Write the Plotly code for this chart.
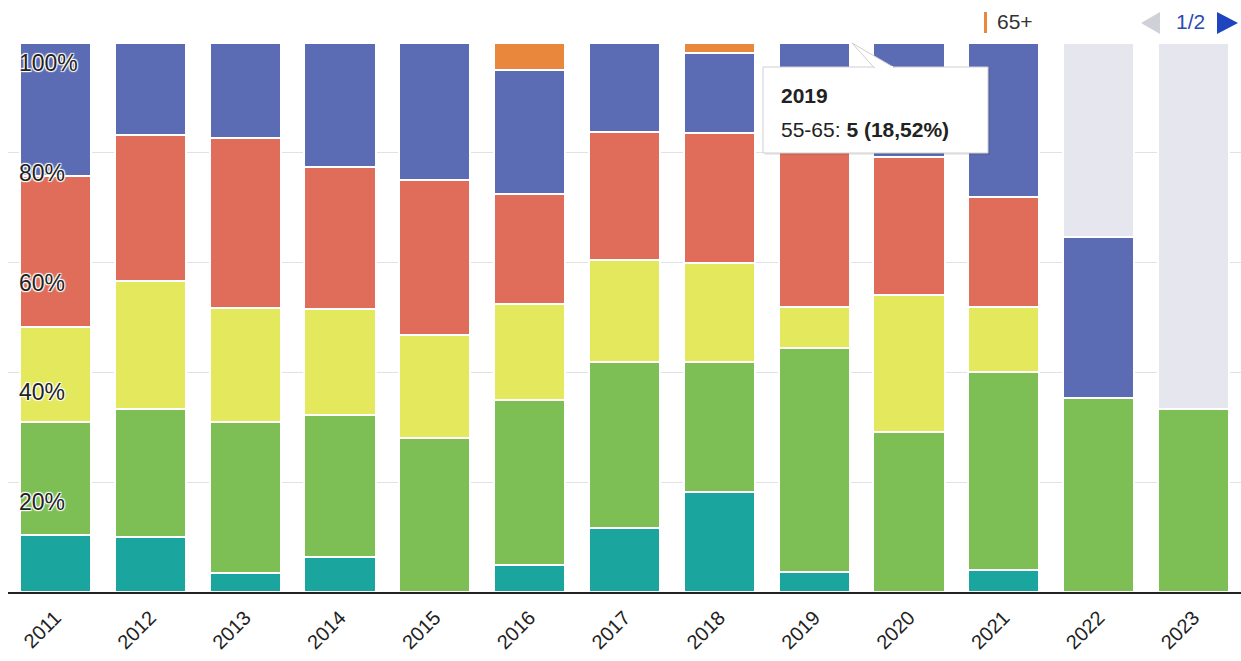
import plotly.graph_objects as go

# ---- data (counts per age group) ----
years = ["2011", "2012", "2013", "2014", "2015", "2016", "2017",
         "2018", "2019", "2020", "2021", "2022", "2023"]
age_18_25 = [3, 3, 1, 2, 0, 2, 5, 10, 1, 0, 1, 0, 0]
age_25_35 = [6, 7, 8, 8, 9, 12, 13, 13, 11, 7, 9, 6, 1]
age_35_45 = [5, 7, 6, 6, 6, 7, 8, 10, 2, 6, 3, 0, 0]
age_45_55 = [8, 8, 9, 8, 9, 8, 10, 13, 8, 6, 5, 0, 0]
age_55_65 = [7, 5, 5, 7, 8, 9, 7, 8, 5, 5, 7, 5, 0]
age_65_plus = [0, 0, 0, 0, 0, 2, 0, 1, 0, 0, 0, 0, 0]
unknown = [0, 0, 0, 0, 0, 0, 0, 0, 0, 0, 0, 6, 2]

series_names = ["18-25", "25-35", "35-45", "45-55", "55-65", "65+", "onbekend"]
series_values = [age_18_25, age_25_35, age_35_45, age_45_55, age_55_65, age_65_plus, unknown]
series_colors = ["#1aa59e", "#7dbf55", "#e3e85c", "#df6d5a", "#5c6cb4", "#e9883d", "#e6e6ee"]

y_ticks = [20, 40, 60, 80, 100]
y_tick_labels = ["20%", "40%", "60%", "80%", "100%"]

# ---- geometry helpers (pixel -> paper) ----
W, H = 1241, 661
ML, MR, MT, MB = 8, 0, 43, 69
PW, PH = W - ML - MR, H - MT - MB


def px(x):
    return (x - ML) / PW


def py(y):
    return (H - MB - y) / PH


FONT = "Arial, 'Liberation Sans', sans-serif"

totals = [sum(s[i] for s in series_values) for i in range(len(years))]

fig = go.Figure()
for name, vals, col in zip(series_names, series_values, series_colors):
    pct = [(v / t * 100 if t else 0) for v, t in zip(vals, totals)]
    fig.add_trace(go.Bar(
        x=years, y=vals, name=name,
        marker=dict(color=col, line=dict(color="white", width=2)),
        customdata=pct,
        hovertemplate="<b>%{x}</b><br>" + name + ": <b>%{y} (%{customdata:.2f}%)</b><extra></extra>",
        showlegend=False,
    ))

fig.update_layout(
    barmode="stack", barnorm="percent", bargap=0.25,
    width=W, height=H,
    margin=dict(l=ML, r=MR, t=MT, b=MB),
    paper_bgcolor="white", plot_bgcolor="white",
    font=dict(family=FONT, size=20, color="#222"),
)
fig.update_xaxes(
    type="category", tickangle=-45, tickfont=dict(size=20, color="#222"),
    showline=True, linecolor="#222", linewidth=2, showgrid=False,
    ticks="", ticklabelstandoff=4,
)
fig.update_yaxes(
    range=[0, 100], tickvals=y_ticks, showticklabels=False,
    showgrid=True, gridcolor="#e2e2e6", gridwidth=1, zeroline=False,
)

halo = "white 1px 1px 1px, white -1px -1px 1px, white 1px -1px 1px, white -1px 1px 1px"
annotations = []
for v, lab in zip(y_ticks, y_tick_labels):
    annotations.append(dict(
        xref="paper", yref="y", x=0, y=v, xanchor="left", yanchor="middle",
        xshift=9, yshift=-20, text=lab, showarrow=False,
        font=dict(size=23, color="#222", family=FONT, shadow=halo),
    ))

# legend (page 1 of 2) drawn at the top right
annotations.append(dict(xref="paper", yref="paper", x=px(995), y=py(22), xanchor="left",
                        yanchor="middle", text="65+", showarrow=False,
                        font=dict(size=21, color="#333", family=FONT)))
annotations.append(dict(xref="paper", yref="paper", x=px(1190), y=py(22), xanchor="center",
                        yanchor="middle", text="1/2", showarrow=False,
                        font=dict(size=21, color="#2a4bb5", family=FONT)))

# hover tooltip for 2019 / 55-65
i19 = years.index("2019")
pct19 = ("%.2f" % (age_55_65[i19] / totals[i19] * 100)).replace(".", ",")
annotations.append(dict(xref="paper", yref="paper", x=px(779), y=py(96), xanchor="left",
                        yanchor="middle", text="<b>2019</b>", showarrow=False,
                        font=dict(size=21, color="#222", family=FONT)))
annotations.append(dict(xref="paper", yref="paper", x=px(779), y=py(129), xanchor="left",
                        yanchor="middle",
                        text="55-65: <b>%d (%s%%)</b>" % (age_55_65[i19], pct19),
                        showarrow=False, font=dict(size=21, color="#222", family=FONT)))

shapes = [
    # legend marker
    dict(type="rect", xref="paper", yref="paper", x0=px(984), x1=px(987), y0=py(33), y1=py(12),
         fillcolor="#e9883d", line=dict(width=0)),
    # pagination arrows
    dict(type="path", xref="paper", yref="paper",
         path="M %f %f L %f %f L %f %f Z" % (px(1160), py(12), px(1160), py(34), px(1141), py(23)),
         fillcolor="#d0d0d8", line=dict(width=0)),
    dict(type="path", xref="paper", yref="paper",
         path="M %f %f L %f %f L %f %f Z" % (px(1217), py(12), px(1217), py(34), px(1238), py(23)),
         fillcolor="#1f44c0", line=dict(width=0)),
    # tooltip box
    dict(type="rect", xref="paper", yref="paper", x0=px(765), x1=px(990), y0=py(155), y1=py(69),
         fillcolor="rgba(0,0,0,0.08)", line=dict(width=0)),
    dict(type="rect", xref="paper", yref="paper", x0=px(763), x1=px(988), y0=py(153), y1=py(67),
         fillcolor="white", line=dict(color="#cfcfcf", width=1)),
    dict(type="path", xref="paper", yref="paper",
         path="M %f %f L %f %f L %f %f Z" % (px(852), py(43), px(874), py(67.5), px(894), py(67.5)),
         fillcolor="white", line=dict(color="#cfcfcf", width=1)),
    dict(type="rect", xref="paper", yref="paper", x0=px(875), x1=px(893), y0=py(69), y1=py(66),
         fillcolor="white", line=dict(width=0)),
]

fig.update_layout(annotations=annotations, shapes=shapes)
fig.write_html(
    "out.html",
    config={"displayModeBar": False},
    post_script="document.body.style.margin='0px';document.body.style.overflow='hidden';",
)
